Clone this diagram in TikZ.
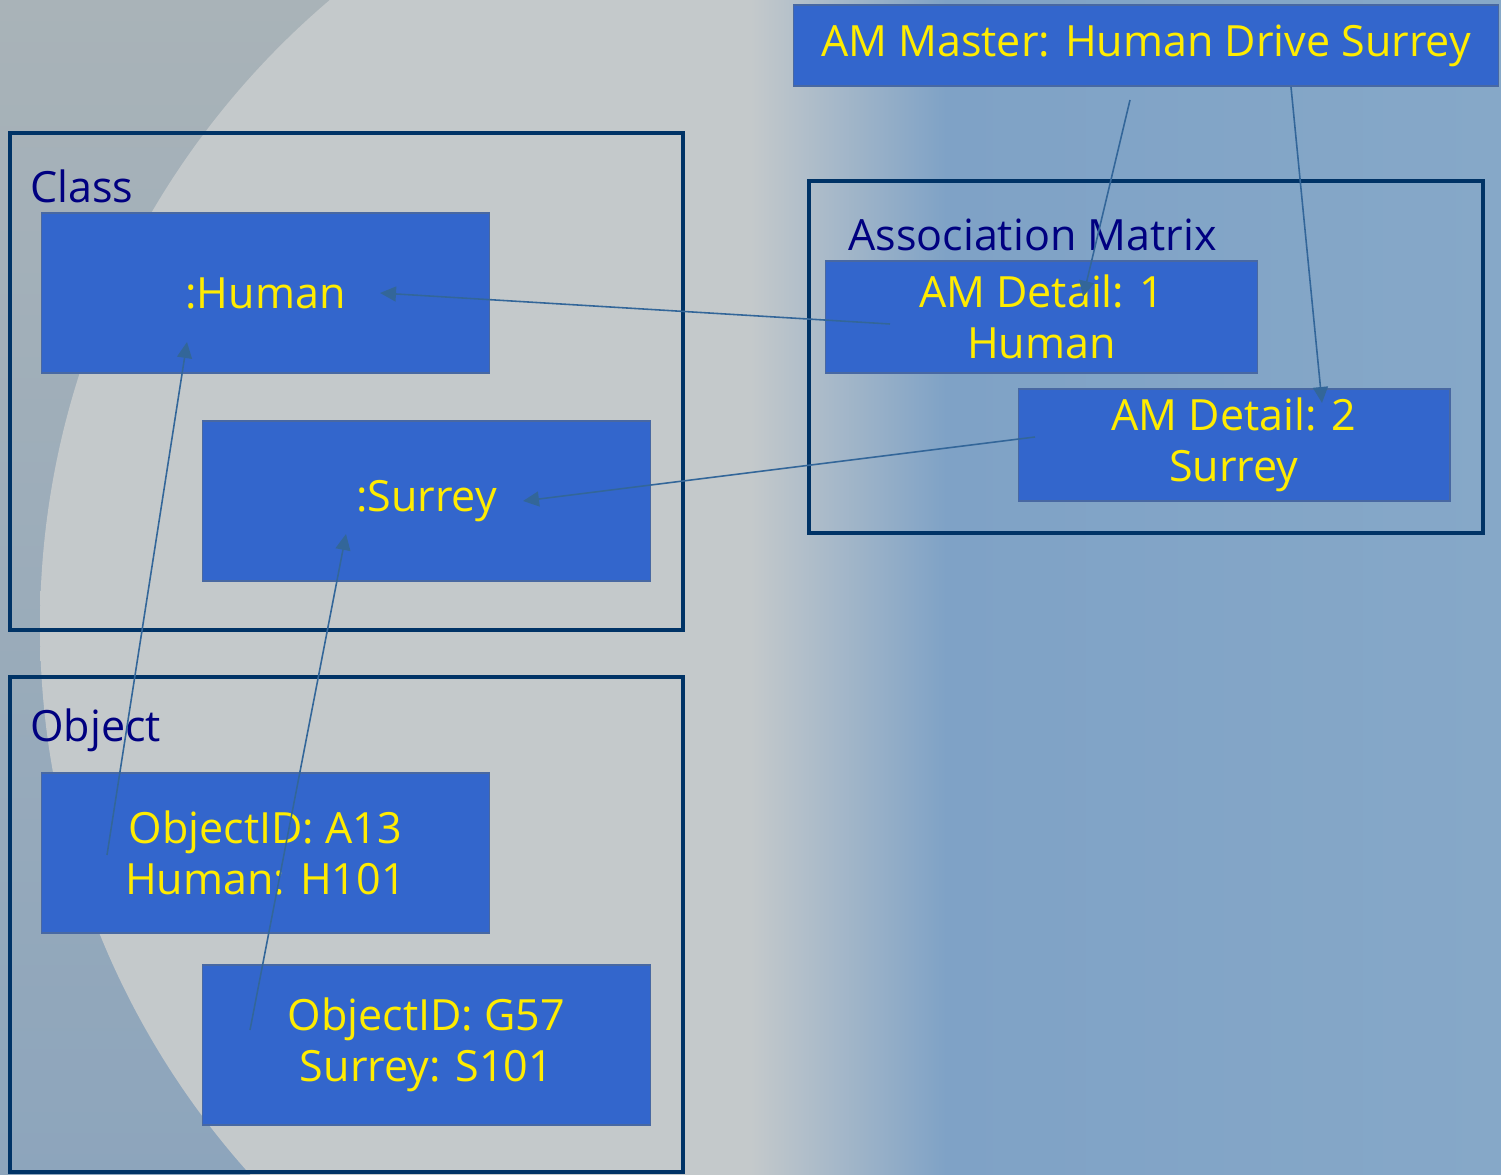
\documentclass[tikz,border=0pt]{standalone}
\usepackage{fontspec}
\setmainfont{Open Sans}
\usetikzlibrary{arrows.meta}

% palette
\definecolor{boxblue}{RGB}{51,102,204}
\definecolor{boxedge}{RGB}{72,104,162}
\definecolor{frameblue}{RGB}{0,51,102}
\definecolor{labelnavy}{RGB}{0,0,128}
\definecolor{textyellow}{RGB}{255,236,0}
\definecolor{linkblue}{RGB}{51,102,153}
\definecolor{bgGrey}{RGB}{169,179,184}
\definecolor{bgLow}{RGB}{141,165,188}
\definecolor{bgMid}{RGB}{160,174,186}
\definecolor{bgBlue}{RGB}{127,162,198}
\definecolor{bgBlueR}{RGB}{134,168,200}
\definecolor{discGrey}{RGB}{196,201,203}

% backdrop: grey on the left turning to blue on the right
\pgfdeclarehorizontalshading{backdrop}{100bp}{%
  color(0bp)=(bgGrey); color(25bp)=(bgGrey); color(47bp)=(bgMid);
  color(55bp)=(bgBlue); color(75bp)=(bgBlueR); color(100bp)=(bgBlueR)}
% light disc, also turning blue towards the right
\pgfdeclarehorizontalshading{discglow}{100bp}{%
  color(0bp)=(discGrey); color(25bp)=(discGrey); color(50bp)=(discGrey);
  color(56.5bp)=(bgBlue); color(75bp)=(bgBlueR); color(100bp)=(bgBlueR)}

\tikzset{
  box/.style={draw=boxedge, line width=0.6pt, fill=boxblue, text=textyellow,
    align=center, inner sep=0pt, font=\fontsize{24.5}{29}\selectfont},
  frame/.style={draw=frameblue, line width=2.3pt, inner sep=0pt},
  framelabel/.style={text=labelnavy, anchor=west, inner sep=0pt,
    font=\fontsize{24.5}{29}\selectfont},
  link/.style={draw=linkblue, line width=0.9pt,
    -{Triangle[length=3.2mm,width=3mm]}}
}

\begin{document}
\begin{tikzpicture}[x=0.02cm, y=-0.02cm]
\useasboundingbox (0,0) rectangle (1501,1175);

% background
\shade[shading=backdrop] (0,0) rectangle (1501,1175);
\shade[top color=bgGrey, bottom color=bgLow] (0,0) rectangle (700,1175);
\begin{scope}
  \clip (861,626) circle [radius=821];
  \shade[shading=discglow] (0,0) rectangle (1501,1175);
\end{scope}

% grouping frames
\node[frame, minimum width=13.46cm, minimum height=9.94cm] (classframe) at (346.5,381.5) {};
\node[frame, minimum width=13.46cm, minimum height=9.90cm] (objframe) at (346.5,924.5) {};
\node[frame, minimum width=13.48cm, minimum height=7.04cm] (amframe) at (1146,357) {};

\node[framelabel] (classlbl) at (30,186) {Class};
\node[framelabel] (objlbl) at (30,730) {Object};
\node[framelabel] (amlbl) at (848,235) {Association Matrix};

% boxes
\node[box, minimum width=14.12cm, minimum height=1.62cm] (master) at (1146,45.5) {AM Master: Human Drive Surrey};
\node[box, minimum width=8.98cm, minimum height=3.2cm] (human) at (265.5,293) {:Human};
\node[box, minimum width=8.98cm, minimum height=3.2cm] (surrey) at (426.5,501) {:Surrey};
\node[box, minimum width=8.98cm, minimum height=3.2cm] (objA) at (265.5,853) {ObjectID: A13\\Human: H101};
\node[box, minimum width=8.98cm, minimum height=3.2cm] (objG) at (426.5,1045) {ObjectID: G57\\Surrey: S101};
\node[box, minimum width=8.66cm, minimum height=2.24cm] (detA) at (1041.5,317) {AM Detail: 1\\Human};
\node[box, minimum width=8.64cm, minimum height=2.24cm] (detB) at (1234,445) {AM Detail: 2\\Surrey};

% connector end points inside the boxes
\coordinate (detAout) at (890,324);
\coordinate (humanin) at (380,293);
\coordinate (detBout) at (1035,437);
\coordinate (surreyin) at (523,501);
\coordinate (objAout) at (107,855);
\coordinate (humanin2) at (187,342);
\coordinate (objGout) at (250,1030);
\coordinate (surreyin2) at (346,534);
\coordinate (masterout1) at (1130,100);
\coordinate (detAin) at (1083,297);
\coordinate (masterout2) at (1291,87);
\coordinate (detBin) at (1322,403);

% connectors
\draw[link] (detAout) -- (humanin);
\draw[link] (detBout) -- (surreyin);
\draw[link] (objAout) -- (humanin2);
\draw[link] (objGout) -- (surreyin2);
\draw[link] (masterout1) -- (detAin);
\draw[link] (masterout2) -- (detBin);
\end{tikzpicture}
\end{document}
